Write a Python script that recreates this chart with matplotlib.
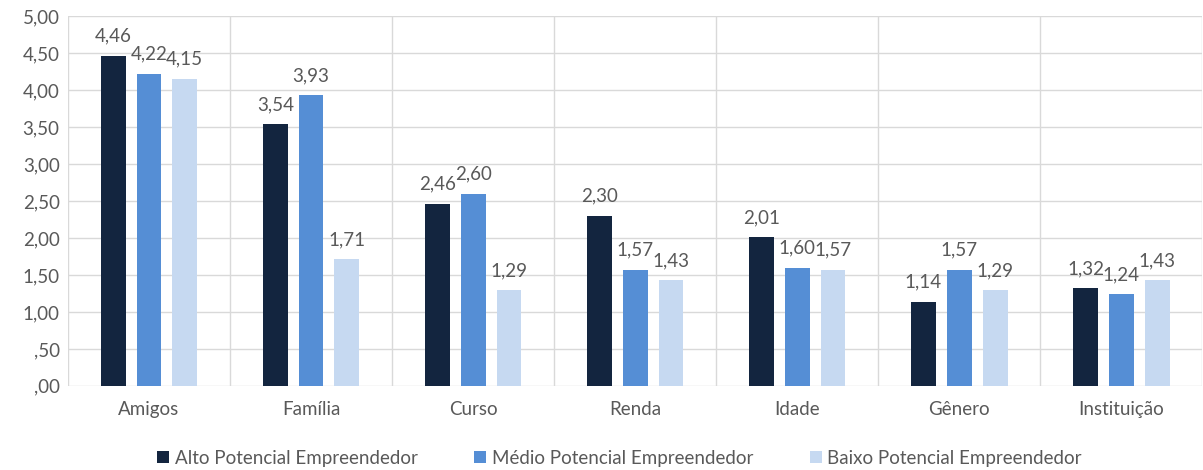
import matplotlib
matplotlib.use("Agg")
import matplotlib.pyplot as plt
import numpy as np
from matplotlib.patches import Patch

categories = ["Amigos", "Família", "Curso", "Renda", "Idade", "Gênero", "Instituição"]
series_names = ["Alto Potencial Empreendedor", "Médio Potencial Empreendedor", "Baixo Potencial Empreendedor"]
alto = [4.46, 3.54, 2.46, 2.30, 2.01, 1.14, 1.32]
medio = [4.22, 3.93, 2.60, 1.57, 1.60, 1.57, 1.24]
baixo = [4.15, 1.71, 1.29, 1.43, 1.57, 1.29, 1.43]
y_ticks = [0, 0.5, 1, 1.5, 2, 2.5, 3, 3.5, 4, 4.5, 5]

colors = ["#13253F", "#558ED5", "#C6D9F1"]
text_color = "#595959"
grid_color = "#D9D9D9"
fs = 13.5


def fmt(v):
    s = f"{v:.2f}".replace(".", ",")
    return s[1:] if s.startswith("0,") else s


plt.rcParams["font.family"] = ["Lato", "DejaVu Sans"]

fig = plt.figure(figsize=(12.03, 4.70), dpi=100)
ax = fig.add_axes([0.0565, 0.179, 0.943, 0.787])

x = np.arange(len(categories))
width = 0.153
step = 0.221
for i, (vals, c) in enumerate(zip([alto, medio, baixo], colors)):
    pos = x + (i - 1) * step
    ax.bar(pos, vals, width=width, color=c, zorder=3)
    for p, v in zip(pos, vals):
        ax.annotate(fmt(v), (p, v), xytext=(0, 8), textcoords="offset points",
                    ha="center", va="bottom", fontsize=fs, color=text_color)

ax.set_xlim(-0.5, len(categories) - 0.5)
ax.set_ylim(0, 5)
ax.set_yticks(y_ticks)
ax.set_yticklabels([fmt(t) for t in y_ticks], fontsize=fs, color=text_color)
ax.set_xticks(x)
ax.set_xticklabels(categories, fontsize=fs, color=text_color)
ax.set_xticks(np.arange(-0.5, len(categories)), minor=True)
ax.tick_params(axis="both", which="both", length=0)
ax.tick_params(axis="x", pad=11)
ax.tick_params(axis="y", pad=6)
ax.grid(axis="y", which="major", color=grid_color, linewidth=1, zorder=0)
ax.grid(axis="x", which="minor", color=grid_color, linewidth=1, zorder=0)
for s in ax.spines.values():
    s.set_visible(False)

handles = [Patch(facecolor=c, label=n) for c, n in zip(colors, series_names)]
fig.legend(handles=handles, loc="center", bbox_to_anchor=(0.515, 0.025), ncol=3,
           frameon=False, fontsize=fs, labelcolor=text_color,
           handlelength=0.65, handleheight=0.65, handletextpad=0.3, columnspacing=3.0)

fig.savefig("out.png", dpi=100)
